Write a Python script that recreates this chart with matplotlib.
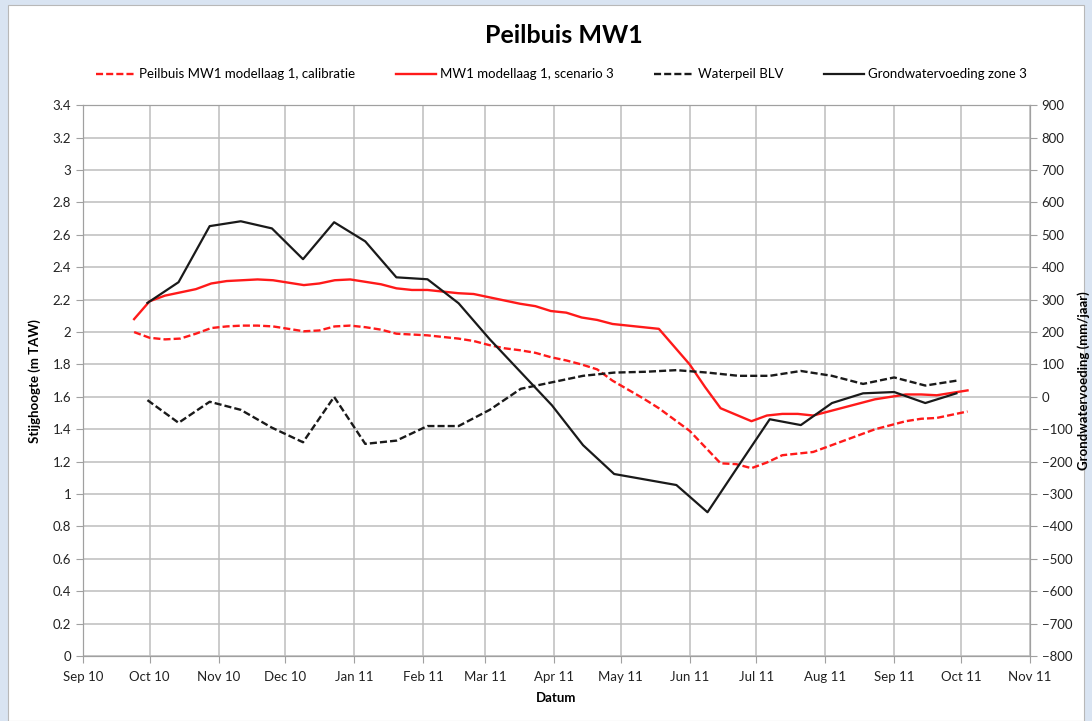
import numpy as np
import pandas as pd
import matplotlib
matplotlib.use('Agg')
import matplotlib.pyplot as plt
import matplotlib.dates as mdates
from matplotlib.ticker import MultipleLocator, FuncFormatter
from matplotlib.patches import Rectangle

plt.rcParams['font.family'] = ['Lato', 'DejaVu Sans']

# weekly model output (left axis, m TAW)
model_dates = pd.date_range('2010-09-24', '2011-10-04', periods=55)
calibratie = [2.00, 1.965, 1.955, 1.96, 1.99, 2.025, 2.035, 2.04, 2.04, 2.035,
              2.02, 2.005, 2.01, 2.035, 2.04, 2.03, 2.015, 1.99, 1.985, 1.98,
              1.97, 1.96, 1.945, 1.92, 1.90, 1.888, 1.872, 1.845, 1.825, 1.80,
              1.77, 1.70, 1.645, 1.59, 1.53, 1.46, 1.39, 1.29, 1.19, 1.185,
              1.16, 1.195, 1.24, 1.25, 1.26, 1.295, 1.33, 1.365, 1.40, 1.425,
              1.45, 1.465, 1.47, 1.49, 1.51]
scenario3 = [2.08, 2.19, 2.225, 2.245, 2.265, 2.30, 2.315, 2.32, 2.325, 2.32,
             2.305, 2.29, 2.30, 2.32, 2.325, 2.31, 2.295, 2.27, 2.26, 2.26,
             2.25, 2.24, 2.235, 2.215, 2.195, 2.175, 2.16, 2.13, 2.12, 2.09,
             2.075, 2.05, 2.04, 2.03, 2.02, 1.91, 1.80, 1.66, 1.53, 1.49,
             1.45, 1.485, 1.495, 1.495, 1.485, 1.51, 1.535, 1.56, 1.585, 1.60,
             1.615, 1.615, 1.61, 1.625, 1.64]

# two-weekly series
bio_dates = pd.date_range('2010-09-30', periods=27, freq='14D')
waterpeil = [1.58, 1.44, 1.57, 1.52, 1.41, 1.32, 1.60, 1.31, 1.33, 1.42,
             1.42, 1.52, 1.65, 1.69, 1.73, 1.75, 1.755, 1.765, 1.75, 1.73,
             1.73, 1.76, 1.73, 1.68, 1.72, 1.67, 1.70]
voeding = [290, 354, 527, 542, 520, 425, 539, 480, 369, 363,
           289, 178, 76, -26, -149, -238, -255, -272, -356, -212,
           -69, -87, -19, 11, 15, -19, 11]

fig = plt.figure(figsize=(10.92, 7.21), dpi=100, facecolor='#d9e4f2')
fig.patches.append(Rectangle((8 / 1092, 0), 1076 / 1092, 716 / 721,
                             transform=fig.transFigure, facecolor='white',
                             edgecolor='#b8b8b8', lw=0.8, zorder=-10))

ax = fig.add_axes([0.076, 0.090, 0.867, 0.764])
ax2 = ax.twinx()

grid_c = '#bdbdbd'
l1, = ax.plot(model_dates, calibratie, color='#ff1a1a', lw=1.7, ls=(0, (3, 1.3)),
              label='Peilbuis MW1 modellaag 1, calibratie')
l2, = ax.plot(model_dates, scenario3, color='#ff1a1a', lw=1.7,
              label='MW1 modellaag 1, scenario 3')
l3, = ax.plot(bio_dates, waterpeil, color='#1a1a1a', lw=1.7, ls=(0, (3, 1.3)),
              label='Waterpeil BLV')
l4, = ax2.plot(bio_dates, voeding, color='#1a1a1a', lw=1.6,
               label='Grondwatervoeding zone 3')

ax.set_xlim(pd.Timestamp('2010-09-01'), pd.Timestamp('2011-11-01'))
ax.set_ylim(0, 3.4)
ax2.set_ylim(-800, 900)
ax.xaxis.set_major_locator(mdates.MonthLocator())
ax.xaxis.set_major_formatter(mdates.DateFormatter('%b %y'))
ax.yaxis.set_major_locator(MultipleLocator(0.2))
ax.yaxis.set_major_formatter(FuncFormatter(lambda v, p: '%g' % round(v, 1)))
ax2.yaxis.set_major_locator(MultipleLocator(100))

ax.grid(True, color=grid_c, lw=1.1)
ax.set_axisbelow(True)
for a in (ax, ax2):
    for s in a.spines.values():
        s.set_color('#a0a0a0')
    a.tick_params(colors='#a0a0a0', labelcolor='#222222', labelsize=9.5,
                  length=5, direction='out')
ax.tick_params(axis='x', pad=6)

ax.set_xlabel('Datum', fontsize=9.5, fontweight='bold', labelpad=6)
ax.set_ylabel('Stijghoogte (m TAW)', fontsize=9.5, fontweight='bold', labelpad=8)
ax2.set_ylabel('Grondwatervoeding (mm/jaar)', fontsize=9.5, fontweight='bold',
               rotation=90, labelpad=4)

fig.text(0.516, 0.951, 'Peilbuis MW1', ha='center', va='center',
         fontsize=18, fontweight='bold')
fig.legend(handles=[l1, l2, l3, l4], loc='center', bbox_to_anchor=(0.514, 0.897),
           ncol=4, frameon=False, fontsize=9.5, handlelength=3.0,
           handletextpad=0.3, columnspacing=3.1)

fig.savefig('out.png', dpi=100, facecolor=fig.get_facecolor())
